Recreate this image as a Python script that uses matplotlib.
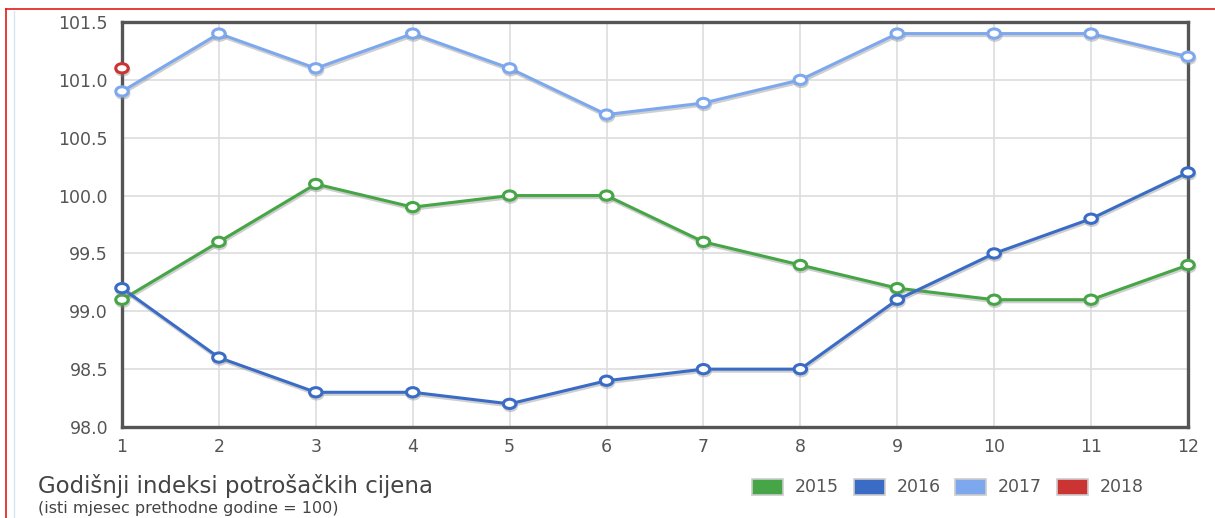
import matplotlib
matplotlib.use("Agg")
import matplotlib.pyplot as plt
from matplotlib.path import Path
from matplotlib.transforms import Affine2D
from matplotlib.patches import Rectangle
from matplotlib.lines import Line2D
import matplotlib.patheffects as pe

plt.rcParams['font.family'] = ['DejaVu Sans']

months = list(range(1, 13))
y2015 = [99.1, 99.6, 100.1, 99.9, 100.0, 100.0, 99.6, 99.4, 99.2, 99.1, 99.1, 99.4]
y2016 = [99.2, 98.6, 98.3, 98.3, 98.2, 98.4, 98.5, 98.5, 99.1, 99.5, 99.8, 100.2]
y2017 = [100.9, 101.4, 101.1, 101.4, 101.1, 100.7, 100.8, 101.0, 101.4, 101.4, 101.4, 101.2]
y2018 = [101.1]
years = ['2015', '2016', '2017', '2018']
colors = ['#46a546', '#3a6cc6', '#7ea8ee', '#cc3333']
yticks = [98.0, 98.5, 99.0, 99.5, 100.0, 100.5, 101.0, 101.5]

W, H = 1215, 518
fig = plt.figure(figsize=(W / 100, H / 100), dpi=100)
ax = fig.add_axes([122 / W, 1 - 427 / H, (1188 - 122) / W, (427 - 22) / H])

ell = Path.unit_circle().transformed(Affine2D().scale(1.35, 1.0))
shadow = [pe.SimpleLineShadow(offset=(0.5, -1.5), shadow_color='#888888', alpha=0.4), pe.Normal()]

series = [y2015, y2016, y2017, y2018]
for ys, c in zip(series, colors):
    xs = months[:len(ys)]
    ax.plot(xs, ys, color=c, lw=2.2, marker=ell, markersize=9,
            markerfacecolor='white', markeredgecolor=c, markeredgewidth=2.2,
            path_effects=shadow, clip_on=False, zorder=5)

ax.set_xlim(1, 12)
ax.set_ylim(98.0, 101.5)
ax.set_xticks(months)
ax.set_yticks(yticks)
ax.set_yticklabels([f"{v:.1f}" for v in yticks])
ax.grid(True, color='#dddddd', lw=1.2)
ax.set_axisbelow(True)
ax.tick_params(length=0, labelsize=12.5, colors='#555555')
ax.tick_params(axis='y', pad=10)
ax.tick_params(axis='x', pad=8)
for s in ax.spines.values():
    s.set_color('#555555')
    s.set_linewidth(2.4)

# title
fig.text(38 / W, 1 - 486 / H, 'Godišnji indeksi potrošačkih cijena', fontsize=16.5,
         color='#444444', va='center', ha='left')
fig.text(38 / W, 1 - 508 / H, '(isti mjesec prethodne godine = 100)', fontsize=11.5,
         color='#444444', va='center', ha='left')

# legend
lx = [752, 854, 955, 1057]
for x0, c, lab in zip(lx, colors, years):
    fig.patches.append(Rectangle((x0 / W, 1 - 495 / H), 31 / W, 16 / H, transform=fig.transFigure,
                                 facecolor=c, edgecolor='#cccccc', lw=1.2))
    fig.text((x0 + 43) / W, 1 - 487 / H, lab, fontsize=12.5, color='#555555', va='center', ha='left')

# red border lines
fig.add_artist(Line2D([6 / W, 1], [1 - 9 / H, 1 - 9 / H], color='#e21b1b', lw=1.2, transform=fig.transFigure))
fig.add_artist(Line2D([6 / W, 6 / W], [0, 1 - 9 / H], color='#e21b1b', lw=1.2, transform=fig.transFigure))
fig.add_artist(Line2D([14 / W, 14 / W], [0, 1 - 11 / H], color='#dbe6f5', lw=1.0, transform=fig.transFigure))

fig.savefig('out.png', dpi=100)
